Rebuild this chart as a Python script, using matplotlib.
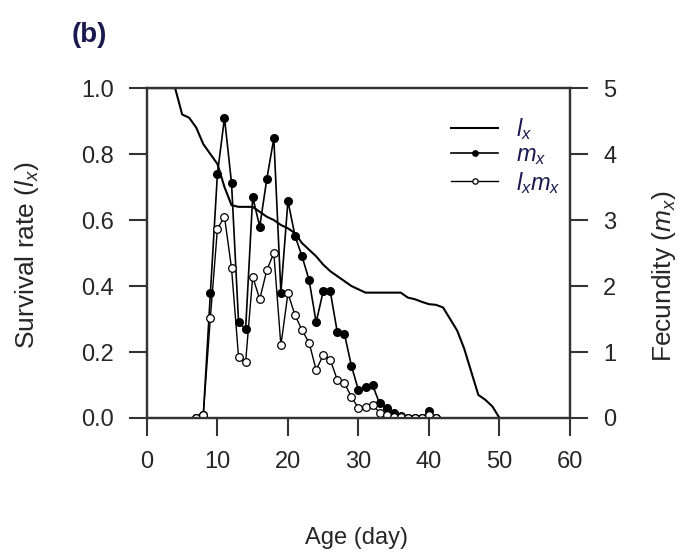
import matplotlib.pyplot as plt
import numpy as np

plt.rcParams['font.family'] = ['Liberation Sans', 'DejaVu Sans']
plt.rcParams['mathtext.fontset'] = 'custom'
plt.rcParams['mathtext.rm'] = 'Liberation Sans'
plt.rcParams['mathtext.it'] = 'Liberation Sans:italic'

# survival rate lx, by day of age
lx_age = list(range(0, 51))
lx = [1.0, 1.0, 1.0, 1.0, 1.0, 0.92, 0.91, 0.88, 0.83, 0.80,
      0.77, 0.70, 0.645, 0.64, 0.64, 0.64, 0.625, 0.61, 0.60, 0.585,
      0.575, 0.56, 0.53, 0.51, 0.49, 0.465, 0.445, 0.43, 0.415, 0.40,
      0.39, 0.38, 0.38, 0.38, 0.38, 0.38, 0.38, 0.365, 0.36, 0.352,
      0.345, 0.343, 0.335, 0.30, 0.265, 0.21, 0.14, 0.07, 0.055, 0.035,
      0.0]

# fecundity mx and lxmx (right axis)
m_age = list(range(7, 42))
mx = [0.0, 0.05, 1.89, 3.7, 4.55, 3.56, 1.45, 1.35, 3.35, 2.9,
      3.62, 4.24, 1.9, 3.29, 2.76, 2.45, 2.09, 1.45, 1.92, 1.92,
      1.30, 1.28, 0.79, 0.42, 0.47, 0.5, 0.22, 0.15, 0.07, 0.03,
      0.0, 0.0, 0.0, 0.1, 0.0]
lxmx = [0.0, 0.05, 1.52, 2.87, 3.05, 2.27, 0.92, 0.85, 2.14, 1.8,
        2.24, 2.5, 1.1, 1.89, 1.56, 1.33, 1.14, 0.73, 0.95, 0.88,
        0.58, 0.53, 0.32, 0.15, 0.17, 0.2, 0.08, 0.05, 0.02, 0.01,
        0.0, 0.0, 0.0, 0.04, 0.0]

txt = '#262626'
fs = 17

fig = plt.figure(figsize=(6.93, 5.54), dpi=100)
ax = fig.add_axes([0.212, 0.2455, 0.6105, 0.5955])
ax2 = ax.twinx()

l1, = ax.plot(lx_age, lx, color='black', lw=1.5, label='$l_x$', zorder=3)
l2, = ax2.plot(m_age, mx, color='black', lw=1.2, marker='o', ms=5.5,
               mfc='black', mec='black', label='$m_x$')
l3, = ax2.plot(m_age, lxmx, color='black', lw=1.0, marker='o', ms=5.5,
               mfc='white', mec='black', mew=0.9, label='$l_xm_x$')

ax.set_xlim(0, 60)
ax.set_ylim(0, 1.0)
ax2.set_ylim(0, 5)
ax.set_xticks(np.arange(0, 61, 10))
ax.set_yticks(np.arange(0, 1.01, 0.2))
ax.set_yticklabels(['%.1f' % v for v in np.arange(0, 1.01, 0.2)])
ax2.set_yticks(range(0, 6))

for a in (ax, ax2):
    a.tick_params(direction='out', length=13, width=1.5, labelsize=fs,
                  colors='#333333', labelcolor=txt, pad=11)
    for s in a.spines.values():
        s.set_linewidth(1.6)
        s.set_color('#333333')

ax.set_xlabel('Age (day)', fontsize=fs, color=txt)
ax.xaxis.set_label_coords(0.496, -0.33)
ax.set_ylabel('Survival rate ($l_x$)', fontsize=fs + 2, color=txt)
ax.yaxis.set_label_coords(-0.25, 0.494)
ax2.set_ylabel('Fecundity ($m_x$)', fontsize=fs + 2, color=txt)
ax2.yaxis.set_label_coords(1.19, 0.43)

leg = ax.legend(handles=[l1, l2, l3], loc='upper left',
                bbox_to_anchor=(0.68, 0.965), frameon=False, fontsize=fs,
                handlelength=2.0, labelspacing=0.1, handletextpad=0.75,
                borderpad=0.2, markerscale=0.7)
for t in leg.get_texts():
    t.set_color('#1a1a50')

fig.text(0.104, 0.925, '(b)', fontsize=fs + 3, fontweight='bold', color='#1a1a50')

fig.savefig('out.png', dpi=100)
